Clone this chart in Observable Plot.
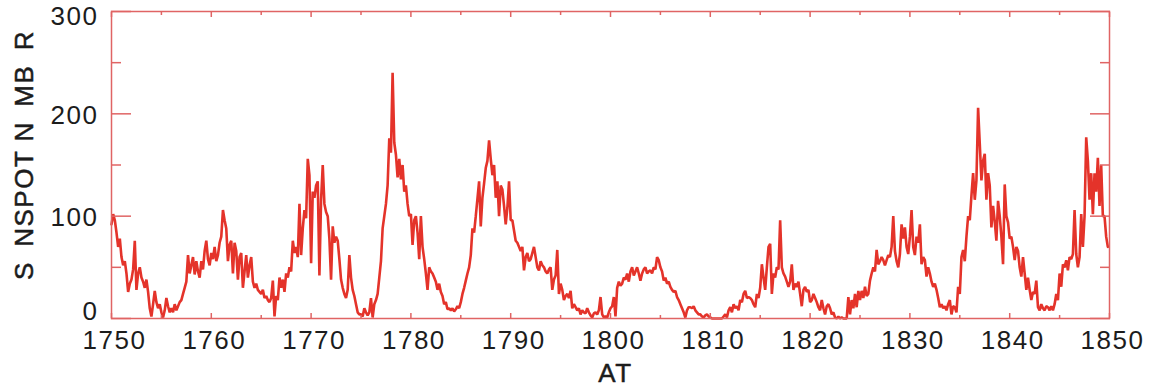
<!DOCTYPE html>
<html>
<head>
<meta charset="utf-8">
<script src="https://cdn.jsdelivr.net/npm/d3@7"></script>
<script src="https://cdn.jsdelivr.net/npm/@observablehq/plot@0.6"></script>
<style>
  html, body { margin: 0; padding: 0; background: #ffffff; }
</style>
</head>
<body>
<div id="chart"></div>
<script>
// Sunspot number, 1750–1850, six samples per year (Jan, Mar, May, Jul, Sep, Nov)
const firstYear = 1750;
const samplesPerYear = 6;
const sunspotNumber = [
  [92, 102, 96, 84, 70, 78],      // 1750
  [60, 52, 56, 44, 26, 34],       // 1751
  [38, 48, 76, 28, 44, 50],       // 1752
  [40, 36, 30, 38, 26, 10],       // 1753
  [2, 14, 27, 16, 10, 14],        // 1754
  [6, 1, 8, 20, 12, 6],           // 1755
  [10, 6, 14, 8, 12, 16],         // 1756
  [18, 24, 30, 36, 62, 44],       // 1757
  [52, 60, 43, 56, 46, 40],       // 1758
  [56, 48, 66, 76, 58, 52],       // 1759
  [64, 58, 70, 56, 62, 74],       // 1760
  [80, 106, 96, 88, 56, 72],      // 1761
  [76, 44, 74, 66, 38, 60],       // 1762
  [64, 30, 46, 62, 40, 52],       // 1763
  [60, 36, 30, 34, 28, 26],       // 1764
  [24, 28, 20, 22, 18, 16],       // 1765
  [20, 37, 2, 22, 18, 40],        // 1766
  [30, 38, 26, 44, 40, 50],       // 1767
  [46, 76, 64, 70, 60, 112],      // 1768
  [62, 88, 106, 98, 156, 140],    // 1769
  [54, 124, 118, 130, 134, 42],   // 1770
  [116, 150, 112, 104, 100, 78],  // 1771
  [38, 90, 74, 80, 76, 58],       // 1772
  [38, 30, 24, 20, 28, 62],       // 1773
  [40, 28, 22, 14, 6, 4],         // 1774
  [4, 2, 10, 6, 3, 6],            // 1775
  [20, 1, 14, 18, 24, 40],        // 1776
  [56, 88, 100, 112, 130, 176],   // 1777
  [162, 240, 172, 160, 138, 156], // 1778
  [136, 150, 124, 130, 112, 100], // 1779
  [102, 72, 96, 100, 84, 58],     // 1780
  [100, 70, 58, 44, 28, 50],      // 1781
  [46, 44, 40, 36, 28, 34],       // 1782
  [26, 22, 14, 16, 9, 10],        // 1783
  [8, 10, 7, 9, 12, 10],          // 1784
  [16, 24, 30, 37, 44, 50],       // 1785
  [62, 88, 84, 100, 117, 134],    // 1786
  [90, 118, 132, 147, 154, 174],  // 1787
  [156, 140, 150, 118, 134, 100], // 1788
  [130, 126, 110, 92, 108, 134],  // 1789
  [96, 96, 86, 76, 74, 70],       // 1790
  [66, 70, 47, 60, 64, 56],       // 1791
  [58, 64, 70, 60, 50, 47],       // 1792
  [56, 52, 50, 46, 44, 48],       // 1793
  [50, 28, 38, 42, 67, 24],       // 1794
  [34, 28, 18, 22, 24, 20],       // 1795
  [27, 10, 14, 11, 8, 10],        // 1796
  [4, 8, 6, 5, 10, 6],            // 1797
  [3, 1, 5, 6, 4, 8],             // 1798
  [21, 4, 1, 2, 1, 6],            // 1799
  [10, 12, 21, 2, 30, 36],        // 1800
  [32, 34, 40, 38, 44, 36],       // 1801
  [46, 50, 42, 46, 50, 44],       // 1802
  [37, 44, 48, 50, 44, 46],       // 1803
  [47, 44, 50, 48, 60, 57],       // 1804
  [50, 46, 37, 40, 34, 36],       // 1805
  [31, 28, 26, 27, 21, 18],       // 1806
  [14, 10, 6, 1, 8, 11],          // 1807
  [11, 10, 12, 8, 6, 4],          // 1808
  [4, 2, 1, 3, 4, 2],             // 1809
  [1, 0, 0, 0, 0, 0],             // 1810
  [0, 0, 2, 4, 1, 8],             // 1811
  [11, 6, 14, 10, 12, 8],         // 1812
  [18, 16, 24, 27, 20, 21],       // 1813
  [20, 18, 14, 11, 24, 20],       // 1814
  [30, 53, 40, 28, 50, 70],       // 1815
  [73, 24, 44, 40, 50, 48],       // 1816
  [96, 50, 44, 41, 36, 31],       // 1817
  [36, 53, 28, 34, 31, 36],       // 1818
  [24, 12, 28, 31, 26, 28],       // 1819
  [16, 18, 24, 20, 16, 11],       // 1820
  [8, 18, 10, 4, 12, 14],         // 1821
  [10, 4, 6, 1, 0, 2],            // 1822
  [0, 1, 0, 0, 0, 21],            // 1823
  [4, 18, 10, 24, 11, 27],        // 1824
  [18, 27, 20, 31, 22, 24],       // 1825
  [37, 44, 50, 46, 67, 53],       // 1826
  [56, 60, 57, 52, 57, 62],       // 1827
  [60, 70, 100, 66, 56, 50],      // 1828
  [63, 92, 78, 89, 70, 63],       // 1829
  [80, 106, 70, 62, 80, 74],      // 1830
  [92, 53, 60, 57, 41, 50],       // 1831
  [44, 36, 31, 34, 28, 20],       // 1832
  [11, 14, 10, 12, 8, 14],        // 1833
  [18, 4, 12, 11, 6, 31],         // 1834
  [24, 60, 67, 56, 80, 100],      // 1835
  [96, 120, 142, 116, 135, 206],  // 1836
  [171, 135, 154, 161, 116, 142], // 1837
  [130, 89, 110, 95, 76, 115],    // 1838
  [100, 80, 53, 131, 100, 94],    // 1839
  [78, 80, 70, 57, 70, 66],       // 1840
  [50, 41, 60, 44, 28, 40],       // 1841
  [28, 18, 26, 24, 37, 11],       // 1842
  [8, 14, 10, 8, 12, 11],         // 1843
  [8, 12, 8, 14, 24, 18],         // 1844
  [44, 31, 53, 50, 57, 47],       // 1845
  [60, 58, 63, 106, 63, 50],      // 1846
  [60, 102, 70, 100, 177, 154],   // 1847
  [116, 142, 102, 142, 124, 157], // 1848
  [110, 150, 100, 100, 80, 70]    // 1849
];

// Axis ticks and labels
const xMajorTicks = [1750, 1760, 1770, 1780, 1790, 1800, 1810, 1820, 1830, 1840, 1850];
const xMinorTicks = [1755, 1765, 1775, 1785, 1795, 1805, 1815, 1825, 1835, 1845];
const yMajorTicks = [0, 100, 200, 300];
const yMinorTicks = [50, 150, 250];
const xTitle = "AT";
const yTitle = "S\u2002NSPOT N\u2002MB\u2002R";

// Flatten the yearly rows into a time series
const series = sunspotNumber.flatMap((row, i) =>
  row.map((value, j) => ({date: firstYear + i + j / samplesPerYear, value}))
);

const lineColor = "#e4332a";
const frameColor = "#e06464";
const inkColor = "#1c1c1c";
const yearFormat = (d) => String(d);
const textWeight = {stroke: inkColor, strokeWidth: 0.5};

const chart = Plot.plot({
  width: 1153,
  height: 388,
  marginLeft: 111,
  marginRight: 44,
  marginTop: 11,
  marginBottom: 70,
  style: {
    fontFamily: "'Liberation Sans', Arial, Helvetica, sans-serif",
    fontSize: "26px",
    color: inkColor,
    background: "#ffffff",
    letterSpacing: "1.5px"
  },
  x: {domain: [1750, 1850]},
  y: {domain: [0, 300]},
  marks: [
    Plot.lineY(series, {x: "date", y: "value", stroke: lineColor, strokeWidth: 2.6, strokeLinejoin: "miter"}),
    Plot.frame({stroke: frameColor, strokeWidth: 1.5}),

    // inward tick marks on all four sides
    Plot.axisY({anchor: "left", ticks: yMajorTicks, tickSize: -20, text: null, label: null, stroke: frameColor, strokeWidth: 1.5}),
    Plot.axisY({anchor: "left", ticks: yMinorTicks, tickSize: -10, text: null, label: null, stroke: frameColor, strokeWidth: 1.5}),
    Plot.axisY({anchor: "right", ticks: yMajorTicks, tickSize: -20, text: null, label: null, stroke: frameColor, strokeWidth: 1.5}),
    Plot.axisY({anchor: "right", ticks: yMinorTicks, tickSize: -10, text: null, label: null, stroke: frameColor, strokeWidth: 1.5}),
    Plot.axisX({anchor: "bottom", ticks: xMajorTicks, tickSize: -5, text: null, label: null, stroke: frameColor, strokeWidth: 1.5}),
    Plot.axisX({anchor: "bottom", ticks: xMinorTicks, tickSize: -3, text: null, label: null, stroke: frameColor, strokeWidth: 1.5}),
    Plot.axisX({anchor: "top", ticks: xMajorTicks, tickSize: -5, text: null, label: null, stroke: frameColor, strokeWidth: 1.5}),
    Plot.axisX({anchor: "top", ticks: xMinorTicks, tickSize: -3, text: null, label: null, stroke: frameColor, strokeWidth: 1.5}),

    // tick labels
    Plot.axisY({anchor: "left", ticks: [300], tickSize: 0, tickPadding: 13, dy: 5, label: null, ...textWeight}),
    Plot.axisY({anchor: "left", ticks: [100, 200], tickSize: 0, tickPadding: 13, dy: 2, label: null, ...textWeight}),
    Plot.axisY({anchor: "left", ticks: [0], tickSize: 0, tickPadding: 13, dy: -7, label: null, ...textWeight}),
    Plot.axisX({anchor: "bottom", ticks: xMajorTicks, tickFormat: yearFormat, tickSize: 0, tickPadding: 12, dx: 3, label: null, ...textWeight}),

    // axis titles
    Plot.text([xTitle], {frameAnchor: "bottom", textAnchor: "middle", lineAnchor: "top", dx: 5, dy: 45, fontSize: 26, fill: inkColor, ...textWeight}),
    Plot.text([yTitle], {frameAnchor: "left", textAnchor: "middle", lineAnchor: "middle", rotate: -90, dx: -87, dy: -10, fontSize: 26, fill: inkColor, ...textWeight})
  ]
});

document.getElementById("chart").append(chart);
</script>
</body>
</html>
